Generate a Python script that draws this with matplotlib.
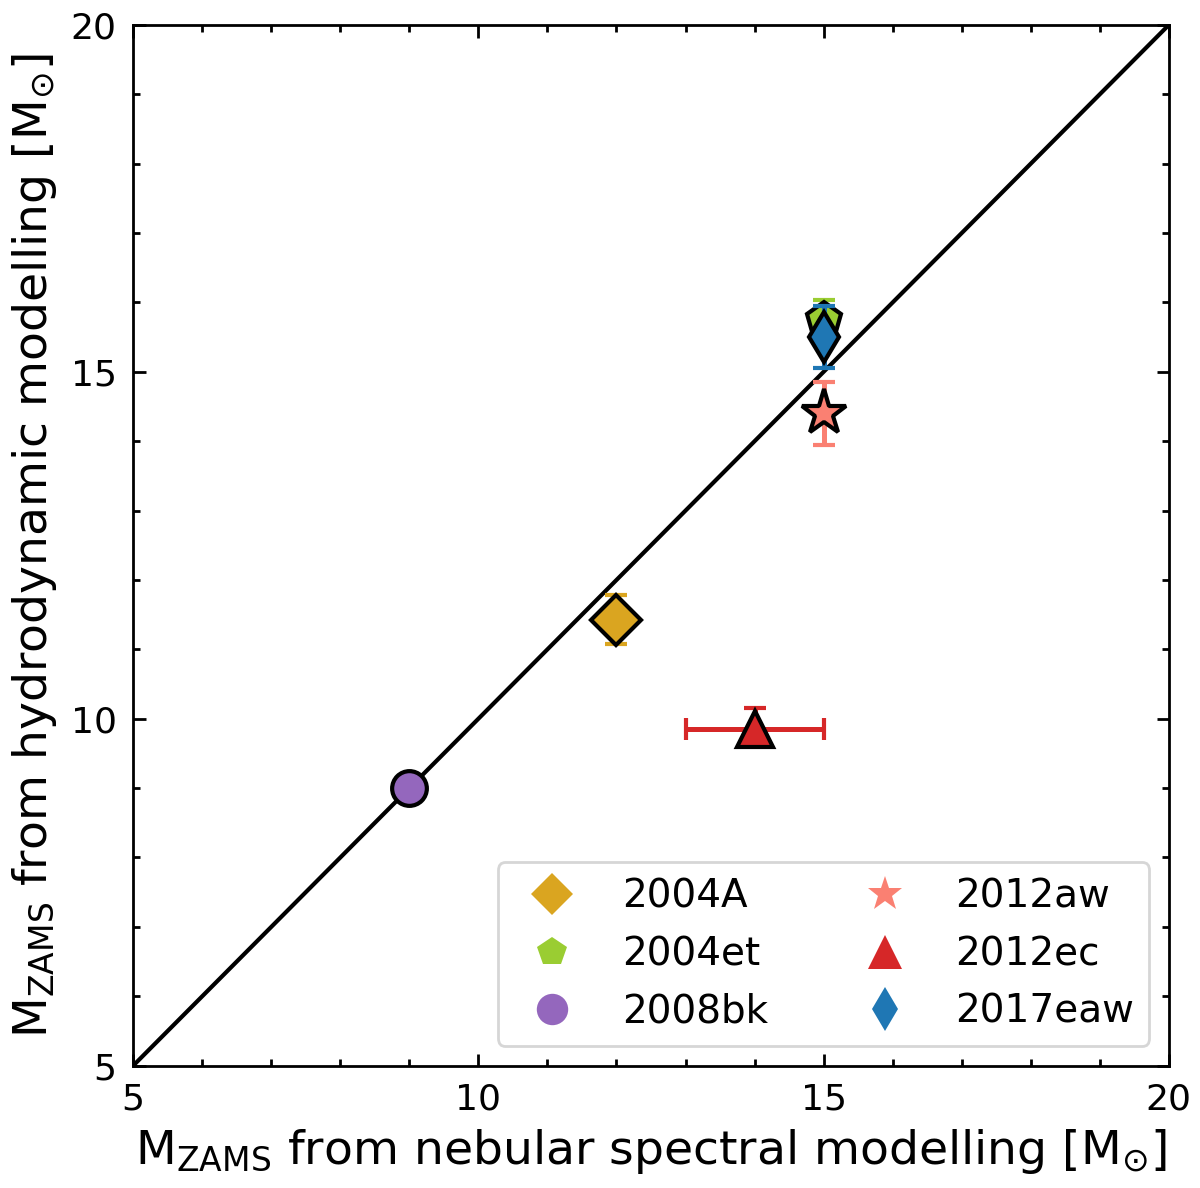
import matplotlib
matplotlib.use("Agg")
import matplotlib.pyplot as plt
from matplotlib.lines import Line2D

names = ["2004A", "2004et", "2008bk", "2012aw", "2012ec", "2017eaw"]
x_neb = [12.0, 15.0, 9.0, 15.0, 14.0, 15.0]
x_err = [0.0, 0.0, 0.0, 0.0, 1.0, 0.0]
y_hyd = [11.43, 15.75, 9.0, 14.4, 9.85, 15.5]
y_err_lo = [0.35, 0.28, 0.0, 0.45, 0.2, 0.45]
y_err_hi = [0.35, 0.28, 0.0, 0.45, 0.3, 0.45]
markers = ["D", "p", "o", "*", "^", "d"]
colors = ["goldenrod", "yellowgreen", "tab:purple", "salmon", "tab:red", "tab:blue"]
main_ms = [12.5, 13, 12.5, 17, 13, 12.5]
leg_ms = [10.6, 11.0, 11.3, 13.0, 12.1, 11.1]

fig = plt.figure(figsize=(6, 5.94), dpi=200)
ax = fig.add_axes([0.111, 0.103, 0.863, 0.876])

ax.plot([5, 20], [5, 20], color="black", lw=1.5, zorder=1)

for i in range(len(names)):
    xe = x_err[i] if x_err[i] > 0 else None
    ye = [[y_err_lo[i]], [y_err_hi[i]]] if y_err_hi[i] > 0 else None
    ax.errorbar(x_neb[i], y_hyd[i], xerr=xe, yerr=ye, fmt=markers[i],
                color=colors[i], ecolor=colors[i], ms=main_ms[i],
                mec="black", mew=1.5, elinewidth=1.8, capsize=4, capthick=1.8,
                zorder=3 + i)

handles = [Line2D([], [], ls="none", marker=markers[i], color=colors[i],
                  ms=leg_ms[i], mew=0) for i in range(len(names))]
ax.legend(handles, names, loc="lower right", ncol=2, fontsize=14)

ax.set_xlim(5, 20)
ax.set_ylim(5, 20)
ax.set_xticks([5, 10, 15, 20])
ax.set_yticks([5, 10, 15, 20])
ax.set_xticks(range(5, 21), minor=True)
ax.set_yticks(range(5, 21), minor=True)
ax.tick_params(which="both", direction="in", top=True, right=True, width=1.0)
ax.tick_params(which="major", length=4.5, labelsize=13, pad=6)
ax.tick_params(which="minor", length=2.5)
for s in ax.spines.values():
    s.set_linewidth(1.0)

ax.set_xlabel(r"M$_{\rm ZAMS}$ from nebular spectral modelling [M$_{\odot}$]", fontsize=17)
ax.set_ylabel(r"M$_{\rm ZAMS}$ from hydrodynamic modelling [M$_{\odot}$]", fontsize=17)

fig.savefig("out.png", dpi=200)
